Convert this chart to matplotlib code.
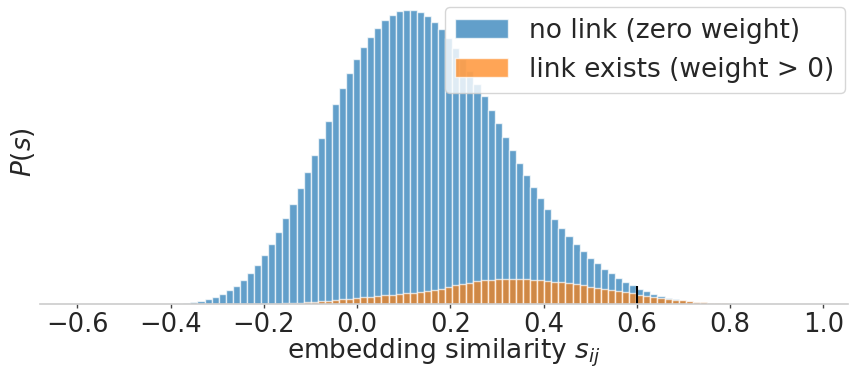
import numpy as np
import matplotlib
matplotlib.use('Agg')
import matplotlib.pyplot as plt

# histogram (arbitrary units, shared bins)
bin_start = -0.3727
bin_width = 0.01518

no_link = [1, 2, 3, 4.7, 7, 10, 13.7, 18.3, 24, 31,
           39.3, 49, 60, 72, 85.7, 100, 116, 132.3, 149, 166,
           183.3, 200, 216, 231, 244.7, 257, 267.3, 276.3, 283.7, 289,
           292.7, 294.3, 294.3, 292, 288, 282.3, 275.3, 266.3, 256.3, 245,
           233.3, 220.3, 208, 194, 181, 167.3, 154, 141, 129, 117.3,
           106, 95, 85, 76, 67.7, 60, 52.7, 46.3, 40.7, 35.3,
           30.7, 26.3, 22, 18.7, 15.3, 12.7, 10.3, 8, 6.3, 5,
           3.7, 3, 2.3, 1.7, 1.3, 1, 0.7]

link = [0, 0, 0, 0, 0, 0, 0, 0, 0, 0,
        0, 0.3, 0.4, 0.5, 0.7, 1, 1.3, 1.7, 2, 2.7,
        3.3, 4, 4.7, 5.3, 6, 6.7, 7.3, 8, 8.7, 9.3,
        10, 10.7, 11.3, 12.3, 13.3, 14.3, 15.3, 16.7, 18.7, 20,
        21.3, 22.7, 23.7, 24.3, 24.7, 25, 25, 25, 24.7, 24.3,
        23.7, 23, 22.3, 21.7, 20.7, 19.7, 18.7, 17.3, 16, 15,
        14, 12.7, 11.7, 10.7, 9.3, 8, 7, 6, 5, 4.3,
        3.7, 3, 2.3, 1.7, 1.3, 1, 0.7]

threshold = 0.6
threshold_height = 18

labels = ['no link (zero weight)', 'link exists (weight > 0)']
xticks = [-0.6, -0.4, -0.2, 0.0, 0.2, 0.4, 0.6, 0.8, 1.0]

dark = '#262626'
plt.rcParams['font.family'] = ['DejaVu Sans']

fig = plt.figure(figsize=(8.5, 3.68), dpi=100)
ax = fig.add_axes([40/850, 1-304/368, 808/850, 304/368])

left = bin_start + bin_width*np.arange(len(no_link))
ax.bar(left, no_link, width=bin_width, align='edge', color='#1f77b4',
       alpha=0.7, edgecolor='white', linewidth=1, label=labels[0])
ax.bar(left, link, width=bin_width, align='edge', color='#ff7f0e',
       alpha=0.7, edgecolor='white', linewidth=1, label=labels[1])
ax.vlines(threshold, 0, threshold_height, color='black', linewidth=1.5)

ax.set_xlim(-0.68, 1.053)
ax.set_ylim(0, 304)
ax.set_xticks(xticks)
ax.set_xticklabels(['%.1f' % t if t >= 0 else '\u2212%.1f' % -t for t in xticks])
ax.set_yticks([])
ax.tick_params(axis='x', labelsize=18.5, colors=dark, length=3, width=1,
               pad=3, color='#444444')
for s in ['left', 'right', 'top']:
    ax.spines[s].set_visible(False)
ax.spines['bottom'].set_color('#cccccc')
ax.spines['bottom'].set_linewidth(1.2)

ax.set_xlabel('embedding similarity $s_{ij}$', fontsize=19, color=dark, labelpad=-1)
ax.set_ylabel('$P(s)$', fontsize=19, color=dark, labelpad=2)

leg = ax.legend(loc='upper right', bbox_to_anchor=(845/850, 1-7/368),
                bbox_transform=fig.transFigure, borderaxespad=0,
                fontsize=19, frameon=True, fancybox=True, framealpha=0.8)
leg.get_frame().set_edgecolor('#cccccc')
for t in leg.get_texts():
    t.set_color(dark)

fig.savefig('out.png', dpi=100)
